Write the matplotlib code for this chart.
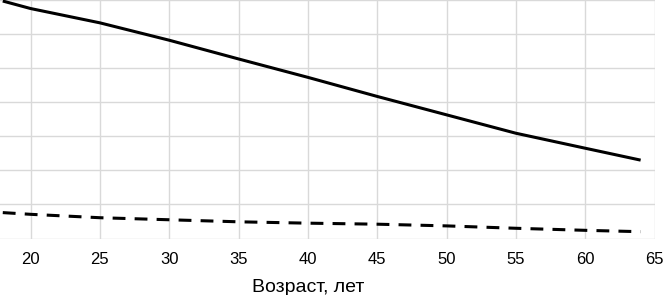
import matplotlib.pyplot as plt

plt.rcParams['font.family'] = ['Liberation Sans', 'DejaVu Sans']

# возраст, лет
age = [18, 20, 25, 30, 35, 40, 45, 50, 55, 60, 64]
# сплошная линия
solid = [6.97, 6.75, 6.33, 5.82, 5.27, 4.73, 4.17, 3.63, 3.09, 2.65, 2.30]
# пунктир
dashed = [0.76, 0.71, 0.61, 0.55, 0.49, 0.45, 0.42, 0.37, 0.30, 0.24, 0.20]
xticks = [20, 25, 30, 35, 40, 45, 50, 55, 60, 65]
yticks = [0, 1, 2, 3, 4, 5, 6, 7]

fig = plt.figure(figsize=(6.64, 2.95), dpi=100)
ax = fig.add_axes([0, (295 - 238.5) / 295, 654.5 / 664, 238.5 / 295])

ax.plot(age, solid, color='black', lw=2.2, solid_capstyle='butt')
ax.plot(age, dashed, color='black', lw=2.2, dashes=(4.2, 3), dash_capstyle='butt')

ax.set_xlim(17.8, 65)
ax.set_ylim(0, 7)
ax.set_xticks(xticks)
ax.set_yticks(yticks)
ax.set_yticklabels([])
ax.grid(True, color='#d9d9d9', lw=1.0)
ax.set_axisbelow(True)
for s in ax.spines.values():
    s.set_visible(False)
ax.tick_params(axis='both', length=0)
ax.tick_params(axis='x', labelsize=12, pad=9.5, colors='black')
ax.set_xlabel('Возраст, лет', fontsize=14, labelpad=5)
ax.xaxis.set_label_coords(308 / 654.5, -0.17)
ax.xaxis.label.set_va('top')

fig.savefig('out.png', dpi=100)
